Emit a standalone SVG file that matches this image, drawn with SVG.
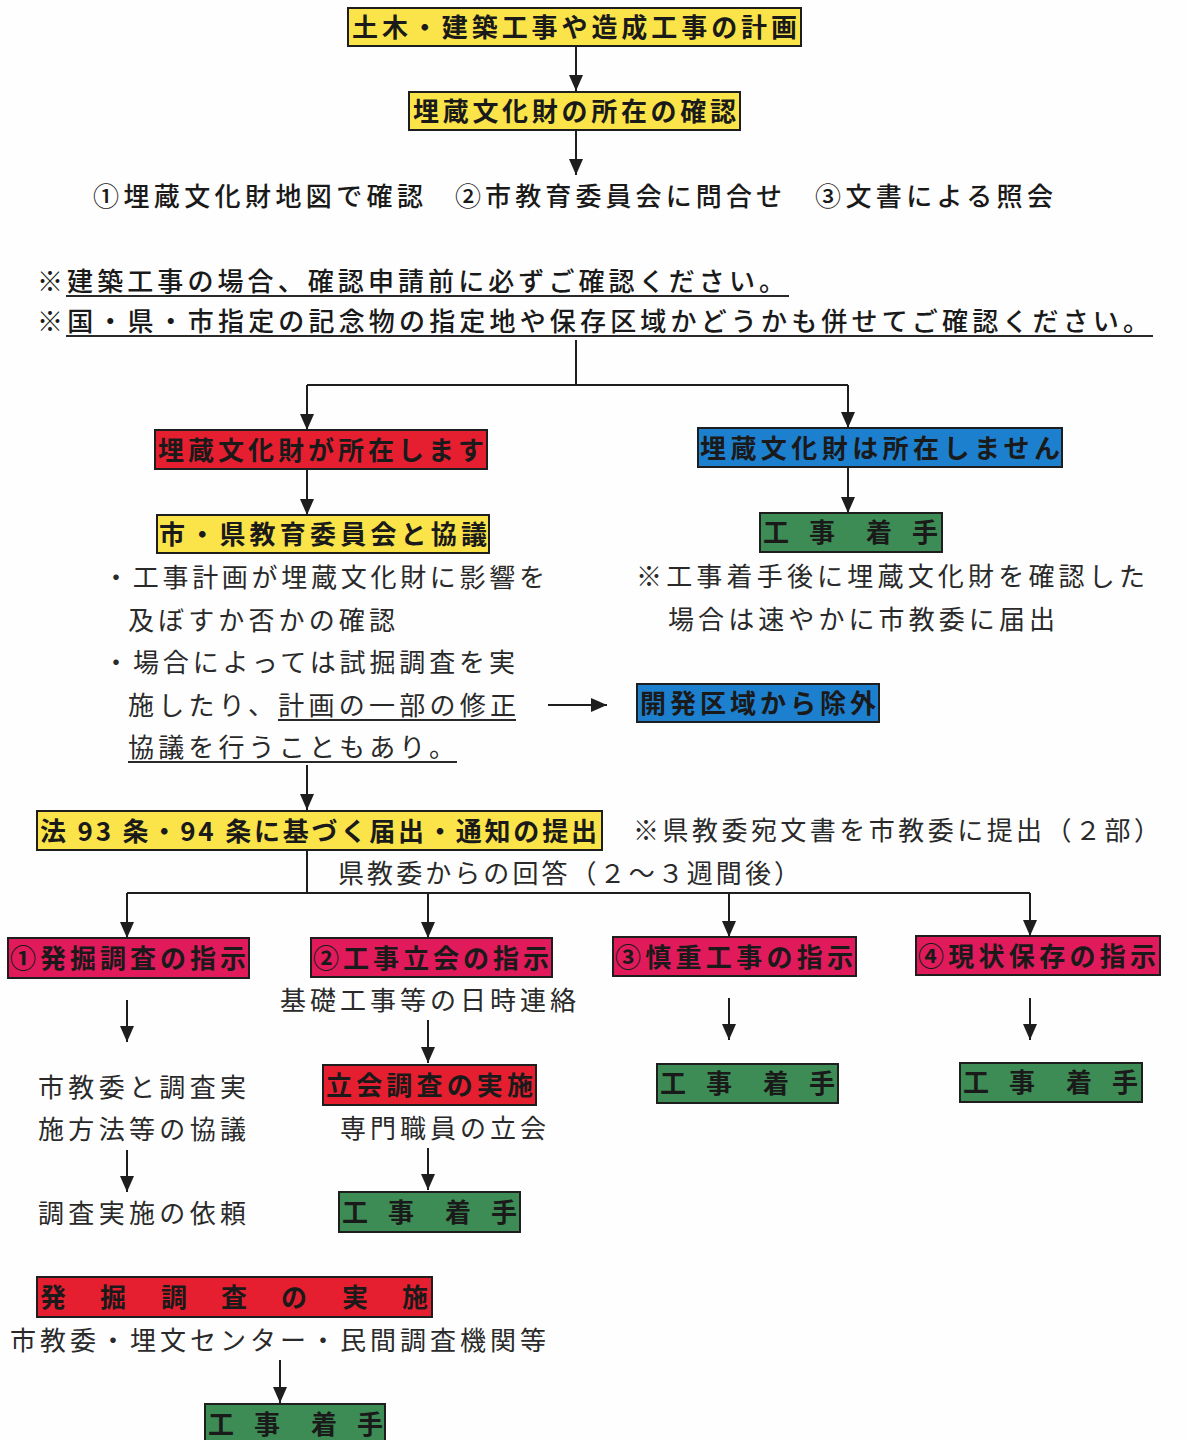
<svg xmlns="http://www.w3.org/2000/svg" width="1188" height="1440" viewBox="0 0 1188 1440">
<style>
.b{stroke:#1e1e1e;stroke-width:2}
.y{fill:#fbe44a}.r{fill:#e61f30}.bl{fill:#1d80cf}.g{fill:#3e8c55}.c{fill:#e11a5b}
.bt{font-family:"Noto Sans CJK JP","Noto Sans",sans-serif;font-weight:700;font-size:26px;fill:#1a1a1a}
.mt{font-family:"Noto Sans CJK JP","Noto Sans",sans-serif;font-weight:500;font-size:26px;fill:#1a1a1a}
.nt{font-family:"Noto Sans CJK JP","Noto Sans",sans-serif;font-weight:400;font-size:26px;fill:#2a2a2a}
.ln{stroke:#1e1e1e;stroke-width:2;fill:none}
.ul{stroke:#2a2a2a;stroke-width:2}
</style>
<defs>
<marker id="ah" viewBox="0 0 16 14" refX="16" refY="7" markerWidth="16" markerHeight="14" markerUnits="userSpaceOnUse" orient="auto"><path d="M0,0 L16,7 L0,14 z" fill="#1e1e1e"/></marker>
</defs>
<rect width="1188" height="1440" fill="#fefefe"/>

<g id="connectors">
<line class="ln" x1="576" y1="46" x2="576" y2="91" marker-end="url(#ah)"/>
<line class="ln" x1="576" y1="130" x2="576" y2="175" marker-end="url(#ah)"/>
<polyline class="ln" points="576,340 576,385"/>
<polyline class="ln" points="307,385 848,385"/>
<line class="ln" x1="307" y1="385" x2="307" y2="430" marker-end="url(#ah)"/>
<line class="ln" x1="848" y1="385" x2="848" y2="428" marker-end="url(#ah)"/>
<line class="ln" x1="307" y1="469" x2="307" y2="515" marker-end="url(#ah)"/>
<line class="ln" x1="848" y1="467" x2="848" y2="513" marker-end="url(#ah)"/>
<line class="ln" x1="548" y1="705" x2="607" y2="705" marker-end="url(#ah)"/>
<line class="ln" x1="307" y1="765" x2="307" y2="810" marker-end="url(#ah)"/>
<polyline class="ln" points="307,850 307,893"/>
<polyline class="ln" points="127,893 1030,893"/>
<line class="ln" x1="127" y1="893" x2="127" y2="938" marker-end="url(#ah)"/>
<line class="ln" x1="428" y1="893" x2="428" y2="938" marker-end="url(#ah)"/>
<line class="ln" x1="729" y1="893" x2="729" y2="937" marker-end="url(#ah)"/>
<line class="ln" x1="1030" y1="893" x2="1030" y2="936" marker-end="url(#ah)"/>
<line class="ln" x1="127" y1="1000" x2="127" y2="1042" marker-end="url(#ah)"/>
<line class="ln" x1="428" y1="1020" x2="428" y2="1063" marker-end="url(#ah)"/>
<line class="ln" x1="729" y1="998" x2="729" y2="1040" marker-end="url(#ah)"/>
<line class="ln" x1="1030" y1="998" x2="1030" y2="1040" marker-end="url(#ah)"/>
<line class="ln" x1="127" y1="1150" x2="127" y2="1192" marker-end="url(#ah)"/>
<line class="ln" x1="428" y1="1148" x2="428" y2="1190" marker-end="url(#ah)"/>
<line class="ln" x1="280" y1="1360" x2="280" y2="1403" marker-end="url(#ah)"/>
</g>

<g id="plan">
<rect class="y b" x="348" y="8" width="453" height="38"/>
<text class="bt" x="352" y="37" textLength="445" lengthAdjust="spacing">土木・建築工事や造成工事の計画</text>
</g>
<g id="confirm">
<rect class="y b" x="409" y="92" width="331" height="38"/>
<text class="bt" x="413" y="121" textLength="323" lengthAdjust="spacing">埋蔵文化財の所在の確認</text>
</g>
<g id="methods">
<text class="mt" x="93" y="206" textLength="330" lengthAdjust="spacing">①埋蔵文化財地図で確認</text>
<text class="mt" x="455" y="206" textLength="327" lengthAdjust="spacing">②市教育委員会に問合せ</text>
<text class="mt" x="815" y="206" textLength="238" lengthAdjust="spacing">③文書による照会</text>
</g>
<g id="notes">
<text class="mt" x="37" y="291" textLength="748" lengthAdjust="spacing">※建築工事の場合、確認申請前に必ずご確認ください。</text>
<line class="ul" x1="66" y1="296" x2="789" y2="296"/>
<text class="mt" x="37" y="331" textLength="1112" lengthAdjust="spacing">※国・県・市指定の記念物の指定地や保存区域かどうかも併せてご確認ください。</text>
<line class="ul" x1="66" y1="336" x2="1153" y2="336"/>
</g>

<g id="exists">
<rect class="r b" x="155" y="430" width="332" height="39"/>
<text class="bt" x="158" y="460" textLength="326" lengthAdjust="spacing">埋蔵文化財が所在します</text>
</g>
<g id="notexists">
<rect class="bl b" x="698" y="428" width="364" height="39"/>
<text class="bt" x="700" y="458" textLength="360" lengthAdjust="spacing">埋蔵文化財は所在しません</text>
</g>
<g id="consult">
<rect class="y b" x="157" y="515" width="332" height="38"/>
<text class="bt" x="159" y="544" textLength="328" lengthAdjust="spacing">市・県教育委員会と協議</text>
</g>
<g id="start1">
<rect class="g b" x="760" y="513" width="182" height="39"/>
<text class="bt" x="763 809 866 912" y="542">工事着手</text>
</g>
<g id="consult-notes">
<text class="nt" x="103" y="587" textLength="442" lengthAdjust="spacing">・工事計画が埋蔵文化財に影響を</text>
<text class="nt" x="128" y="630" textLength="267" lengthAdjust="spacing">及ぼすか否かの確認</text>
<text class="nt" x="103" y="672" textLength="412" lengthAdjust="spacing">・場合によっては試掘調査を実</text>
<text class="nt" x="128" y="715" textLength="388" lengthAdjust="spacing">施したり、計画の一部の修正</text>
<line class="ul" x1="278" y1="720" x2="516" y2="720"/>
<text class="nt" x="128" y="757" textLength="327" lengthAdjust="spacing">協議を行うこともあり。</text>
<line class="ul" x1="128" y1="762" x2="457" y2="762"/>
</g>
<g id="start1-note">
<text class="nt" x="636" y="586" textLength="509" lengthAdjust="spacing">※工事着手後に埋蔵文化財を確認した</text>
<text class="nt" x="668" y="629" textLength="387" lengthAdjust="spacing">場合は速やかに市教委に届出</text>
</g>
<g id="exclude">
<rect class="bl b" x="637" y="684" width="242" height="38"/>
<text class="bt" x="640" y="713" textLength="236" lengthAdjust="spacing">開発区域から除外</text>
</g>
<g id="notify">
<rect class="y b" x="37" y="811" width="565" height="39"/>
<text class="bt" x="40" y="841" textLength="557" lengthAdjust="spacing">法 93 条・94 条に基づく届出・通知の提出</text>
</g>
<g id="notify-notes">
<text class="nt" x="633" y="840" textLength="527" lengthAdjust="spacing">※県教委宛文書を市教委に提出（２部）</text>
<text class="nt" x="338" y="883" textLength="462" lengthAdjust="spacing">県教委からの回答（２～３週間後）</text>
</g>

<g id="inst1">
<rect class="c b" x="8" y="938" width="241" height="40"/>
<text class="bt" x="10" y="968" textLength="236" lengthAdjust="spacing">①発掘調査の指示</text>
</g>
<g id="inst2">
<rect class="c b" x="311" y="938" width="241" height="39"/>
<text class="bt" x="313" y="968" textLength="236" lengthAdjust="spacing">②工事立会の指示</text>
</g>
<g id="inst3">
<rect class="c b" x="613" y="937" width="243" height="39"/>
<text class="bt" x="615" y="967" textLength="238" lengthAdjust="spacing">③慎重工事の指示</text>
</g>
<g id="inst4">
<rect class="c b" x="916" y="936" width="244" height="39"/>
<text class="bt" x="918" y="966" textLength="238" lengthAdjust="spacing">④現状保存の指示</text>
</g>

<text class="nt" x="280" y="1010" textLength="296" lengthAdjust="spacing">基礎工事等の日時連絡</text>
<g id="inst1-notes">
<text class="nt" x="38" y="1097" textLength="208" lengthAdjust="spacing">市教委と調査実</text>
<text class="nt" x="38" y="1139" textLength="208" lengthAdjust="spacing">施方法等の協議</text>
<text class="nt" x="38" y="1223" textLength="208" lengthAdjust="spacing">調査実施の依頼</text>
</g>
<g id="witness">
<rect class="r b" x="323" y="1065" width="213" height="40"/>
<text class="bt" x="326" y="1095" textLength="207" lengthAdjust="spacing">立会調査の実施</text>
</g>
<text class="nt" x="340" y="1138" textLength="206" lengthAdjust="spacing">専門職員の立会</text>
<g id="start2">
<rect class="g b" x="339" y="1192" width="181" height="40"/>
<text class="bt" x="342 388 445 491" y="1222">工事着手</text>
</g>
<g id="start3">
<rect class="g b" x="657" y="1064" width="181" height="39"/>
<text class="bt" x="660 706 763 809" y="1093">工事着手</text>
</g>
<g id="start4">
<rect class="g b" x="960" y="1063" width="182" height="39"/>
<text class="bt" x="963 1009 1066 1112" y="1092">工事着手</text>
</g>
<g id="excavation">
<rect class="r b" x="37" y="1277" width="395" height="40"/>
<text class="bt" x="40 100 161 221 281 342 402" y="1307">発掘調査の実施</text>
</g>
<text class="nt" x="10" y="1350" textLength="536" lengthAdjust="spacing">市教委・埋文センター・民間調査機関等</text>
<g id="start5">
<rect class="g b" x="205" y="1404" width="180" height="40"/>
<text class="bt" x="208 254 311 357" y="1434">工事着手</text>
</g>
</svg>
